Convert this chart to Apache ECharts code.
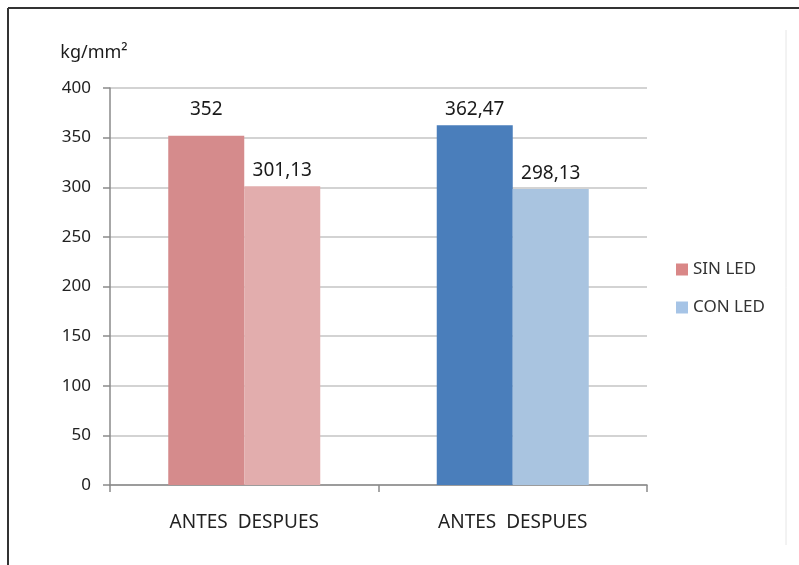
<!DOCTYPE html>
<html>
<head>
<meta charset="utf-8">
<script src="https://cdn.jsdelivr.net/npm/echarts@6/dist/echarts.min.js"></script>
<style>
  html, body { margin: 0; padding: 0; background: #fff; }
  #chart { width: 799px; height: 565px; }
</style>
</head>
<body>
<div id="chart"></div>
<script>
// groups along the x axis
var groups = ["SIN LED", "CON LED"];
var groupLabel = "ANTES  DESPUES";
// values per group
var antes = [352, 362.47];
var despues = [301.13, 298.13];
// colours per group (antes / despues), legend colours
var antesColors = ["#d58b8c", "#4a7ebb"];
var despuesColors = ["#e2adad", "#a9c4e0"];
var legendColors = ["#d98787", "#a6c4e6"];
// y axis
var yMin = 0, yMax = 400, yStep = 50;

var font = "Noto Sans";

function fmt(v) {
  return String(v).replace(".", ",");
}

function barSeries(name, values, colors, dist) {
  return {
    name: name,
    type: "bar",
    barWidth: 76,
    barGap: "0%",
    data: values.map(function (v, i) {
      var d = { value: v, itemStyle: { color: colors[i] } };
      if (dist && dist[i] != null) d.label = { distance: dist[i] };
      return d;
    }),
    label: {
      show: true,
      position: "top",
      distance: 6,
      color: "#1a1a1a",
      fontFamily: font,
      fontSize: 19,
      formatter: function (p) { return fmt(p.value); }
    }
  };
}

var chart = echarts.init(document.getElementById("chart"));
chart.setOption({
  animation: false,
  textStyle: { fontFamily: font },
  grid: { left: 110, right: 152, top: 88, bottom: 80 },
  legend: {
    orient: "vertical",
    left: 671,
    top: 256,
    itemWidth: 12,
    itemHeight: 12,
    itemGap: 21,
    icon: "rect",
    data: groups,
    textStyle: { color: "#333", fontSize: 17, fontFamily: font },
    selectedMode: false
  },
  xAxis: {
    type: "category",
    data: groups,
    axisLine: { lineStyle: { color: "#8a8a8a", width: 1.5 } },
    axisTick: { show: true, length: 7, interval: 0, lineStyle: { color: "#8a8a8a", width: 1.5 } },
    axisLabel: {
      margin: 28,
      color: "#222",
      fontSize: 19,
      fontFamily: font,
      formatter: function () { return groupLabel; }
    }
  },
  yAxis: {
    type: "value",
    min: yMin,
    max: yMax,
    interval: yStep,
    name: "kg/mm²",
    nameLocation: "end",
    nameGap: 26,
    nameTextStyle: { color: "#1a1a1a", fontSize: 18, fontFamily: font, align: "center", padding: [0, 0, 0, -32] },
    axisLine: { show: true, lineStyle: { color: "#8a8a8a", width: 1.5 } },
    axisTick: { show: true, length: 7, lineStyle: { color: "#8a8a8a", width: 1.5 } },
    axisLabel: { margin: 19, color: "#222", fontSize: 17, fontFamily: font },
    splitLine: { lineStyle: { color: "#c4c4c4", width: 1.5 } }
  },
  graphic: [
    { type: "line", shape: { x1: 8, y1: 8, x2: 799, y2: 8 }, style: { stroke: "#333", lineWidth: 2 } },
    { type: "line", shape: { x1: 8, y1: 8, x2: 8, y2: 565 }, style: { stroke: "#333", lineWidth: 2 } },
    { type: "line", shape: { x1: 786, y1: 30, x2: 786, y2: 545 }, style: { stroke: "#e6e6e6", lineWidth: 1 } }
  ],
  series: [
    barSeries("ANTES", antes, antesColors, [17, null]),
    barSeries("DESPUES", despues, despuesColors),
    { name: groups[0], type: "line", data: [], itemStyle: { color: legendColors[0] } },
    { name: groups[1], type: "line", data: [], itemStyle: { color: legendColors[1] } }
  ]
});
</script>
</body>
</html>
